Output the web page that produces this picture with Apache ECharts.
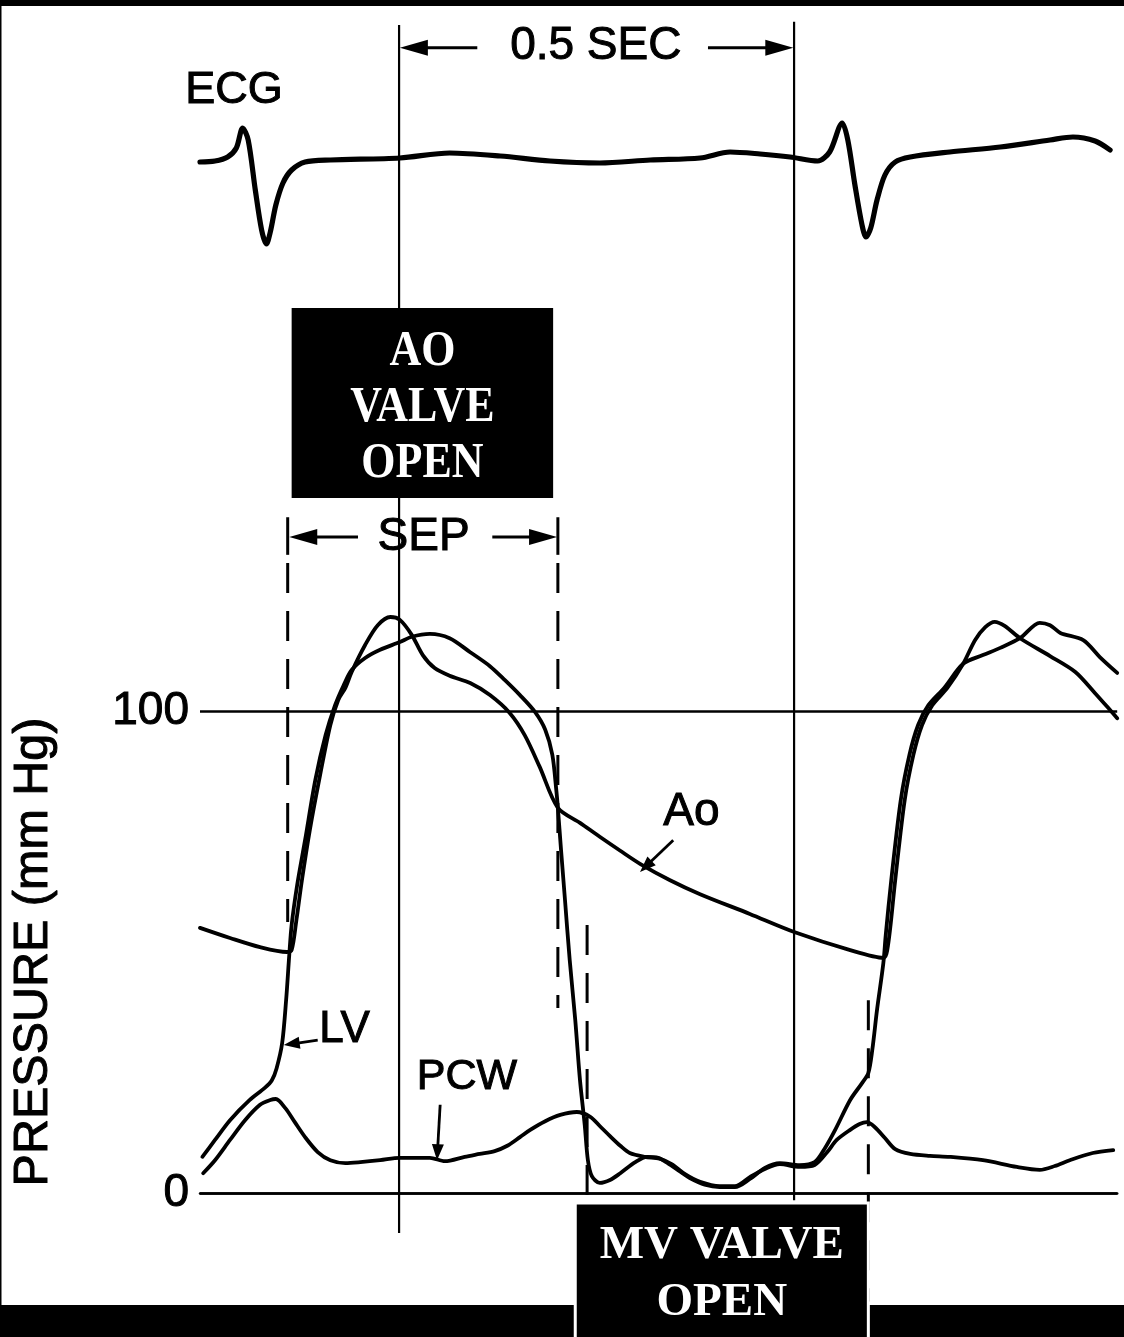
<!DOCTYPE html>
<html>
<head>
<meta charset="utf-8">
<script src="https://cdn.jsdelivr.net/npm/echarts@6/dist/echarts.min.js"></script>
<style>
  html, body { margin: 0; padding: 0; background: #fff; }
  #chart { width: 1124px; height: 1337px; }
</style>
</head>
<body>
<div id="chart"></div>
<script>
// Time in ms from the left edge of the tracing, pressure in mmHg.
const aoTrace = [
  [0,55.0],[38,52.9],[76,51.0],[110,50.0],[116,50.4],[122,56.6],[129,64.9],[139,75.3],[152,86.7],
  [165,97.1],[175,102.3],[184,104.8],[192,108.1],[209,113.7],[225,117.8],[241,119.5],[253,118.9],
  [268,115.8],[282,111.6],[297,108.9],[316,107.3],[342,105.8],[367,103.3],[392,99.6],[411,95.0],
  [430,88.4],[453,79.9],[481,76.8],[506,73.9],[532,71.0],[557,68.3],[595,64.9],[633,62.0],
  [696,57.9],[753,54.1],[823,50.4],[865,48.8],[871,51.5],[880,64.9],[892,81.5],[903,90.9],
  [914,97.1],[927,101.2],[946,104.8],[966,109.8],[981,114.7],[994,117.4],[1006,118.5],[1019,117.6],
  [1038,115.1],[1076,111.4],[1108,108.1],[1133,103.7],[1152,100.2],[1161,98.5]
];

const lvTrace = [
  [3,7.5],[19,11.0],[38,15.1],[63,19.3],[82,21.8],[91,23.4],[97,25.9],[104,31.1],[109,40.0],
  [113,49.4],[116,55.6],[123,63.9],[133,73.2],[146,85.7],[159,95.0],[171,101.2],[182,105.4],
  [192,108.5],[209,111.0],[228,112.7],[253,114.3],[268,115.4],[291,116.0],[316,115.1],[342,112.2],
  [367,109.3],[386,106.4],[405,103.3],[424,99.8],[437,96.1],[446,90.9],[451,83.6],[453,79.9],
  [457,71.2],[462,60.8],[468,48.3],[475,35.9],[481,23.4],[487,14.1],[491,6.8],[496,3.5],[506,2.1],
  [519,2.7],[532,4.1],[551,6.4],[566,7.5],[580,7.3],[592,6.2],[608,4.4],[620,3.1],[639,1.7],
  [658,1.2],[677,1.2],[696,2.9],[715,5.2],[734,6.2],[759,5.8],[778,6.4],[791,9.3],[804,13.1],
  [823,19.3],[838,22.8],[846,24.9],[851,29.7],[857,38.0],[865,47.7],[868,53.5],[875,64.9],
  [887,81.5],[898,90.9],[909,97.1],[922,101.2],[942,104.8],[966,109.8],[991,111.6],[1013,113.1],
  [1038,115.1],[1063,118.3],[1076,117.8],[1089,116.2],[1118,114.7],[1139,111.2],[1161,107.9]
];

const pcwTrace = [
  [4,4.1],[19,6.8],[38,11.0],[57,15.1],[76,18.3],[89,19.3],[96,19.5],[108,17.6],[120,14.7],
  [133,11.6],[149,8.5],[165,6.8],[184,6.2],[203,6.4],[228,6.8],[253,7.3],[291,7.3],[310,6.6],
  [335,7.5],[354,8.1],[373,8.7],[389,9.8],[405,11.6],[418,13.1],[437,14.9],[456,16.2],[477,16.8],
  [494,15.8],[506,13.9],[519,11.8],[532,9.8],[544,8.3],[563,7.5],[582,7.1],[597,6.0],[614,3.9],
  [633,2.3],[658,1.4],[677,1.4],[696,3.3],[715,5.0],[734,6.0],[759,5.4],[778,5.8],[794,8.5],
  [806,11.0],[823,13.1],[835,14.3],[844,14.7],[854,13.7],[867,11.4],[880,9.1],[899,8.1],[924,7.7],
  [949,7.5],[991,6.8],[1034,5.4],[1063,4.8],[1082,5.6],[1101,6.8],[1130,8.3],[1156,8.9]
];

// ECG in mV against the same time base.
const ecgTrace = [
  [0,-0.04],[19,-0.03],[35,0.01],[46,0.10],[54,0.30],[61,0.18],[70,-0.32],[78,-0.72],[84,-0.86],
  [89,-0.74],[96,-0.47],[105,-0.25],[116,-0.12],[133,-0.04],[165,-0.02],[253,0.0],[316,0.05],
  [380,0.02],[443,-0.03],[506,-0.05],[570,-0.02],[633,0.0],[671,0.06],[709,0.04],[747,0.01],
  [782,-0.03],[797,0.06],[813,0.35],[820,0.18],[829,-0.27],[838,-0.67],[843,-0.79],[849,-0.70],
  [857,-0.42],[867,-0.17],[880,-0.04],[899,0.01],[949,0.06],[1013,0.11],[1076,0.18],[1105,0.21],
  [1133,0.17],[1152,0.08]
];

const pressureTicks = [0, 100];
const timeMax = 1161;

// Event times (ms)
const aoOpenTime = 252;
const halfSecondLater = 752;
const sepStart = 111;
const sepEnd = 453;
const mvOpenTime = 490;
const nextMvTime = 846;

const chart = echarts.init(document.getElementById('chart'), null, { renderer: 'canvas' });

const traceStyle = (w) => ({ color: '#000', width: w, cap: 'round', join: 'round' });

chart.setOption({
  animation: false,
  backgroundColor: '#fff',
  grid: [
    { left: 200, right: 6.8, top: 711, bottom: 144 },
    { left: 200, right: 6.8, top: 98, height: 160 }
  ],
  xAxis: [
    { gridIndex: 0, type: 'value', min: 0, max: timeMax,
      axisLine: { show: true, onZero: true, lineStyle: { color: '#000', width: 2.5 } },
      axisTick: { show: false }, axisLabel: { show: false }, splitLine: { show: false } },
    { gridIndex: 1, type: 'value', min: 0, max: timeMax, show: false }
  ],
  yAxis: [
    { gridIndex: 0, type: 'value', min: pressureTicks[0], max: pressureTicks[1], interval: 100,
      name: 'PRESSURE (mm Hg)', nameLocation: 'middle', nameRotate: 90, nameGap: 142,
      nameTextStyle: { fontFamily: 'Liberation Sans', fontSize: 48.5, color: '#000',
        textBorderColor: '#000', textBorderWidth: 1 },
      axisLine: { show: false }, axisTick: { show: false },
      axisLabel: { fontFamily: 'Liberation Sans', fontSize: 46, color: '#000', margin: 11,
        textBorderColor: '#000', textBorderWidth: 1 },
      splitLine: { show: true, lineStyle: { color: '#000', width: 2.5 } } },
    { gridIndex: 1, type: 'value', min: -1, max: 0.6, show: false }
  ],
  series: [
    { name: 'Ao', type: 'line', xAxisIndex: 0, yAxisIndex: 0, data: aoTrace, smooth: 0.3,
      showSymbol: false, clip: false, lineStyle: traceStyle(3.8) },
    { name: 'LV', type: 'line', xAxisIndex: 0, yAxisIndex: 0, data: lvTrace, smooth: 0.3,
      showSymbol: false, clip: false, lineStyle: traceStyle(3.8) },
    { name: 'PCW', type: 'line', xAxisIndex: 0, yAxisIndex: 0, data: pcwTrace, smooth: 0.3,
      showSymbol: false, clip: false, lineStyle: traceStyle(3.8) },
    { name: 'ECG', type: 'line', xAxisIndex: 1, yAxisIndex: 1, data: ecgTrace, smooth: 0.3,
      showSymbol: false, clip: false, lineStyle: traceStyle(5.2) }
  ]
});

// Annotation layer, anchored in time/pressure units of the pressure grid.
const P = (t, p) => chart.convertToPixel({ gridIndex: 0 }, [t, p]);

function vline(t, p1, p2, width, dash) {
  const a = P(t, p1), b = P(t, p2);
  return { type: 'line', z: 50, shape: { x1: a[0], y1: a[1], x2: b[0], y2: b[1] },
    style: { stroke: '#000', lineWidth: width, lineDash: dash || null } };
}

function arrow(from, to, len, half, width) {
  const a = P(from[0], from[1]), b = P(to[0], to[1]);
  const dx = b[0] - a[0], dy = b[1] - a[1];
  const d = Math.hypot(dx, dy), ux = dx / d, uy = dy / d;
  const bx = b[0] - ux * len, by = b[1] - uy * len;
  return [
    { type: 'line', z: 50, shape: { x1: a[0], y1: a[1], x2: bx + ux * 2, y2: by + uy * 2 },
      style: { stroke: '#000', lineWidth: width } },
    { type: 'polygon', z: 50, shape: { points: [[b[0], b[1]],
        [bx - uy * half, by + ux * half], [bx + uy * half, by - ux * half]] },
      style: { fill: '#000' } }
  ];
}

function label(t, p, text, size) {
  const a = P(t, p);
  return { type: 'text', z: 60, x: a[0], y: a[1],
    style: { text: text, fill: '#000', stroke: '#000', lineWidth: 1,
      font: size + 'px "Liberation Sans", Arial, sans-serif',
      align: 'center', verticalAlign: 'middle' } };
}

function box(t1, p1, t2, p2, text, size, lineH, stretch, shift, strokeWhite) {
  const a = P(t1, p1), b = P(t2, p2);
  return [
    { type: 'rect', z: 80, shape: { x: a[0], y: a[1], width: b[0] - a[0], height: b[1] - a[1] },
      style: { fill: '#000', stroke: strokeWhite ? '#fff' : null, lineWidth: strokeWhite ? 3 : 0 } },
    { type: 'text', z: 90, x: (a[0] + b[0]) / 2, y: (a[1] + b[1]) / 2 + shift, scaleY: stretch,
      style: { text: text, fill: '#fff',
        font: 'bold ' + size + 'px "Liberation Serif", "Times New Roman", serif',
        align: 'center', verticalAlign: 'middle', lineHeight: lineH } }
  ];
}

const dash = [30, 18];
const g = [];

// frame
g.push({ type: 'rect', z: 100, shape: { x: 0, y: 0, width: 1124, height: 6 }, style: { fill: '#000' } });
g.push({ type: 'rect', z: 100, shape: { x: 0, y: 0, width: 1.5, height: 1337 }, style: { fill: '#000' } });
g.push({ type: 'rect', z: 70, shape: { x: 0, y: 1305, width: 1124, height: 32 }, style: { fill: '#000' } });

// timing lines
g.push(vline(aoOpenTime, -8.3, 242.3, 2.2));
g.push(vline(halfSecondLater, -1.5, 243.0, 2.2));
g.push(vline(sepStart, 140.2, 132.4, 3));
g.push(vline(sepStart, 130.7, 56.2, 3, dash));
g.push(vline(sepEnd, 140.2, 132.4, 3));
g.push(vline(sepEnd, 130.7, 38.4, 3, dash));
g.push(vline(mvOpenTime, 55.6, -2.0, 3, dash));
g.push(vline(nextMvTime, 40.0, -22.5, 3, dash));

// 0.5 SEC bracket
g.push(...arrow([351, 237.6], [aoOpenTime + 1, 237.6], 28, 8, 2.8));
g.push(...arrow([643, 237.6], [halfSecondLater - 1, 237.6], 28, 8, 2.8));
g.push(label(501, 237.8, '0.5 SEC', 46));

// SEP bracket
g.push(...arrow([200, 136.1], [sepStart + 2, 136.1], 28, 8, 2.8));
g.push(...arrow([370, 136.1], [sepEnd - 1, 136.1], 28, 8, 2.8));
g.push(label(283, 136.1, 'SEP', 46));

// trace labels
g.push(label(43, 228.8, 'ECG', 45));
g.push(label(622, 79.0, 'Ao', 46));
g.push(...arrow([599, 73.2], [557, 66.6], 16, 6, 2.8));
g.push(label(183, 33.8, 'LV', 44));
g.push(...arrow([149, 31.7], [106, 30.7], 16, 6, 2.8));
g.push(label(338, 24.1, 'PCW', 43));
g.push(...arrow([304, 18.3], [300, 6.8], 16, 6, 2.8));

// valve boxes
g.push(...box(116, 183.6, 447, 144.2, 'AO\nVALVE\nOPEN', 44, 49, 1.15, 5, false));
g.push(...box(475, -2.1, 846, -30.8, 'MV VALVE\nOPEN', 47, 57, 1.0, 2, true));

chart.setOption({ graphic: { elements: g } });
</script>
</body>
</html>
